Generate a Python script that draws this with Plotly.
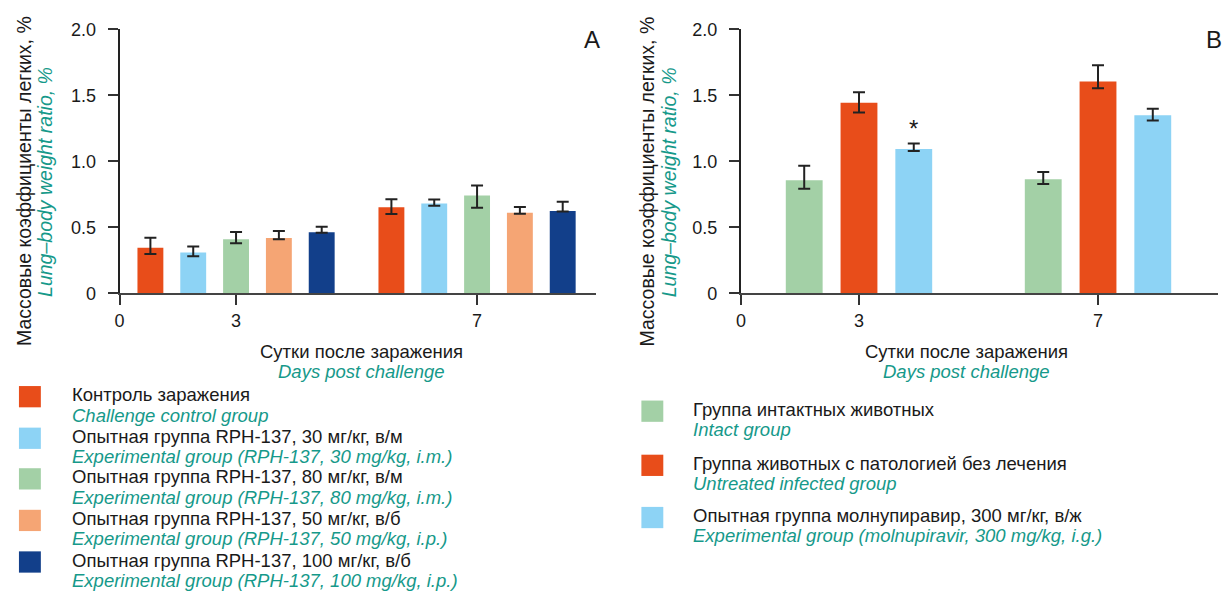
import plotly.graph_objects as go

# ---------------- data ----------------
days = ["3", "7"]

# Panel A: RPH-137 study
a_groups_ru = [
    "Контроль заражения",
    "Опытная группа RPH-137, 30 мг/кг, в/м",
    "Опытная группа RPH-137, 80 мг/кг, в/м",
    "Опытная группа RPH-137, 50 мг/кг, в/б",
    "Опытная группа RPH-137, 100 мг/кг, в/б",
]
a_groups_en = [
    "Challenge control group",
    "Experimental group (RPH-137, 30 mg/kg, i.m.)",
    "Experimental group (RPH-137, 80 mg/kg, i.m.)",
    "Experimental group (RPH-137, 50 mg/kg, i.p.)",
    "Experimental group (RPH-137, 100 mg/kg, i.p.)",
]
a_mean = [
    [0.344, 0.652],
    [0.308, 0.681],
    [0.410, 0.740],
    [0.418, 0.610],
    [0.462, 0.624],
]
a_err_up = [
    [0.076, 0.061],
    [0.046, 0.030],
    [0.054, 0.076],
    [0.053, 0.044],
    [0.041, 0.069],
]
a_err_down = [
    [0.046, 0.051],
    [0.027, 0.017],
    [0.031, 0.093],
    [0.008, 0.008],
    [0.003, 0.005],
]

# Panel B: molnupiravir study
b_groups_ru = [
    "Группа интактных животных",
    "Группа животных с патологией без лечения",
    "Опытная группа молнупиравир, 300 мг/кг, в/ж",
]
b_groups_en = [
    "Intact group",
    "Untreated infected group",
    "Experimental group (molnupiravir, 300 mg/kg, i.g.)",
]
b_mean = [
    [0.857, 0.864],
    [1.443, 1.604],
    [1.093, 1.349],
]
b_err_up = [
    [0.110, 0.054],
    [0.081, 0.123],
    [0.041, 0.049],
]
b_err_down = [
    [0.066, 0.036],
    [0.073, 0.051],
    [0.015, 0.039],
]
y_ticks = [0, 0.5, 1.0, 1.5, 2.0]
y_ticktext = ["0", "0.5", "1.0", "1.5", "2.0"]

# ---------------- styles ----------------
ORANGE = "#E84D1A"
LBLUE = "#8DD3F5"
GREEN = "#A3D0A6"
SALMON = "#F5A574"
DBLUE = "#123F8A"
TEAL = "#16998A"
INK = "#1A1A1A"
FONT = "'Liberation Sans', Arial, sans-serif"

TXT = 18.5      # legend and x-title lines
YTITLE = 19.5   # rotated y titles
TICK = 18

a_colors = [ORANGE, LBLUE, GREEN, SALMON, DBLUE]
b_colors = [GREEN, ORANGE, LBLUE]

W, H = 1222, 601


def px(x):
    return x / W


def py(y):
    return 1 - y / H


fig = go.Figure()

# Panel A layout (axis units = pixels from the y axis)
A_LEFT, A_RIGHT = 115, 593
A_CENTERS = [117, 359]
A_PITCH, A_WIDTH = 43, 26

# Panel B layout
B_LEFT, B_RIGHT = 739, 1218
B_CENTERS = [118.5, 358.5]
B_PITCH, B_WIDTH = 55, 37

Y_TOP, Y_BOTTOM = 20, 293

err_style = dict(type="data", symmetric=False, color="#222222", thickness=2, width=6)

for i, (m, up, dn) in enumerate(zip(a_mean, a_err_up, a_err_down)):
    off = (i - 2) * A_PITCH
    fig.add_trace(go.Bar(
        x=[c + off for c in A_CENTERS], y=m, width=A_WIDTH,
        marker=dict(color=a_colors[i], line=dict(width=0)),
        error_y=dict(array=up, arrayminus=dn, **err_style),
        name=a_groups_en[i], xaxis="x", yaxis="y", showlegend=False,
    ))

for i, (m, up, dn) in enumerate(zip(b_mean, b_err_up, b_err_down)):
    off = (i - 1) * B_PITCH
    fig.add_trace(go.Bar(
        x=[c + off for c in B_CENTERS], y=m, width=B_WIDTH,
        marker=dict(color=b_colors[i], line=dict(width=0)),
        error_y=dict(array=up, arrayminus=dn, **err_style),
        name=b_groups_en[i], xaxis="x2", yaxis="y2", showlegend=False,
    ))

xcommon = dict(
    showline=True, linecolor="#444444", linewidth=2, ticks="outside", ticklen=10,
    tickwidth=2, tickcolor="#333333", showgrid=False, zeroline=False,
    tickfont=dict(family=FONT, size=TICK, color=INK), fixedrange=True,
)
ycommon = dict(
    showline=True, linecolor="#222222", linewidth=2, ticks="outside", ticklen=10,
    tickwidth=2, tickcolor="#333333", showgrid=False, zeroline=False,
    range=[0, 2.0], tickvals=y_ticks, ticktext=y_ticktext,
    tickfont=dict(family=FONT, size=TICK, color=INK), ticklabelstandoff=8,
    fixedrange=True,
)

fig.update_layout(
    width=W, height=H, margin=dict(l=0, r=0, t=0, b=0),
    paper_bgcolor="white", plot_bgcolor="white", barmode="overlay",
    xaxis=dict(domain=[px(A_LEFT), px(A_RIGHT)], range=[0, A_RIGHT - A_LEFT],
               tickvals=[0] + A_CENTERS, ticktext=["0"] + days, anchor="y", **xcommon),
    yaxis=dict(domain=[py(Y_BOTTOM), py(Y_TOP)], anchor="x", **ycommon),
    xaxis2=dict(domain=[px(B_LEFT), px(B_RIGHT)], range=[0, B_RIGHT - B_LEFT],
                tickvals=[0] + B_CENTERS, ticktext=["0"] + days, anchor="y2", **xcommon),
    yaxis2=dict(domain=[py(Y_BOTTOM), py(Y_TOP)], anchor="x2", **ycommon),
)

ann = []
shapes = []


def text(x, y, s, color=INK, size=TXT, italic=False, xanchor="left", angle=0):
    ann.append(dict(
        x=px(x), y=py(y), xref="paper", yref="paper", text=s, showarrow=False,
        xanchor=xanchor, yanchor="middle", textangle=angle, borderpad=0,
        font=dict(family=FONT, size=size, color=color,
                  style="italic" if italic else "normal"),
    ))


# panel letters
text(589, 30, "A", size=24, xanchor="center")
text(1214, 30, "B", size=24, xanchor="center")

# y-axis titles
for xr, xe in ((19, 40), (645, 667)):
    text(xr, 177, "Массовые коэффициенты легких, %", size=YTITLE, angle=-90,
         xanchor="center")
    text(xe, 178, "Lung–body weight ratio, %", size=YTITLE, color=TEAL, italic=True,
         angle=-90, xanchor="center")

# x-axis titles
for xc in (358, 965):
    text(xc, 353, "Сутки после заражения", xanchor="center")
    text(xc, 374, "Days post challenge", color=TEAL, italic=True, xanchor="center")

# significance mark above molnupiravir bar, day 3
ann.append(dict(
    x=B_CENTERS[0] + B_PITCH, y=b_mean[2][0] + b_err_up[2][0], xref="x2", yref="y2",
    text="*", showarrow=False, yanchor="bottom", yshift=0,
    font=dict(family=FONT, size=24, color=INK),
))

# legend A
a_rows = [400, 443, 485, 528, 571]
for i, yc in enumerate(a_rows):
    shapes.append(dict(type="rect", xref="paper", yref="paper",
                       x0=px(14), x1=px(36), y0=py(yc + 11), y1=py(yc - 11),
                       fillcolor=a_colors[i], line=dict(width=0)))
    text(66, yc - 2, a_groups_ru[i])
    text(66, yc + 19, a_groups_en[i], color=TEAL, italic=True)

# legend B
b_rows = [415, 471, 525]
for i, yc in enumerate(b_rows):
    shapes.append(dict(type="rect", xref="paper", yref="paper",
                       x0=px(639), x1=px(661), y0=py(yc + 11), y1=py(yc - 11),
                       fillcolor=b_colors[i], line=dict(width=0)))
    text(690, yc - 2, b_groups_ru[i])
    text(690, yc + 19, b_groups_en[i], color=TEAL, italic=True)

fig.update_layout(annotations=ann, shapes=shapes)

fig.write_html("out.html")
